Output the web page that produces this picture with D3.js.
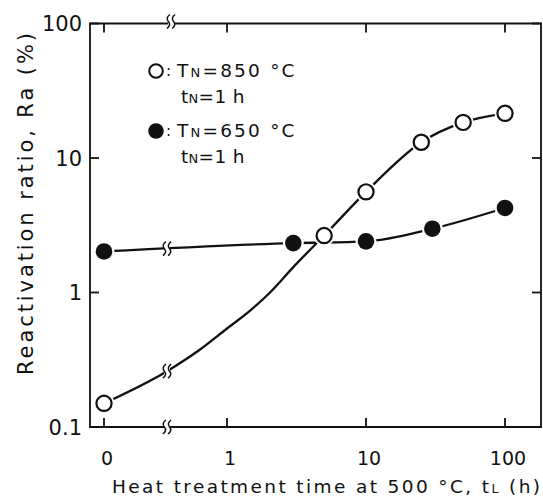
<!DOCTYPE html>
<html><head><meta charset="utf-8">
<script src="https://cdn.jsdelivr.net/npm/d3@7"></script>
<style>
body{margin:0;background:#fff}
svg{display:block}
text{font-family:"DejaVu Sans","Liberation Sans",Arial,sans-serif;fill:#111}
</style>
</head><body>
<svg id="chart" width="543" height="500"></svg>
<script>
// Heat treatment time at 500 °C (h); 0 = untreated, drawn left of the axis break
const timesOpen = [0, 5, 10, 25, 50, 100];
const ratioOpen = [0.15, 2.65, 5.6, 13.1, 18.4, 21.5];
const timesFilled = [0, 3, 10, 30, 100];
const ratioFilled = [2.02, 2.33, 2.4, 2.98, 4.25];
// hand-drawn trend curve through the TN=850 °C points
const fitTimes = [0, 0.37, 0.64, 1, 1.46, 2.04, 3.08, 5, 10, 25, 50, 100];
const fitRatio = [0.15, 0.26, 0.377, 0.54, 0.73, 1.0, 1.59, 2.65, 5.6, 13.1, 18.4, 21.5];
const xTicks = [0, 1, 10, 100];
const xTickLabels = ["0", "1", "10", "100"];
const yTicks = [0.1, 1, 10, 100];
const yTickLabels = ["0.1", "1", "10", "100"];
const breakTime = 0.37;

const svg = d3.select("#chart");
const pLeft = 90, pRight = 541, pTop = 23.5, pBottom = 427;
const ink = "#111";

const xLog = d3.scaleLog().domain([1, 100]).range([227, 505]);
const zeroX = 104;
const x = t => (t === 0 ? zeroX : xLog(t));
const y = d3.scaleLog().domain([0.1, 100]).range([pBottom, pTop]);
const bx = xLog(breakTime);

const g = svg.append("g");

// frame
const frame = g.append("g").attr("stroke", ink).attr("stroke-width", 1.8).attr("fill", "none");
frame.append("line").attr("x1", pLeft).attr("x2", pLeft).attr("y1", pTop).attr("y2", pBottom);
frame.append("line").attr("x1", pRight).attr("x2", pRight).attr("y1", pTop).attr("y2", pBottom);
frame.append("line").attr("x1", pLeft - 1).attr("x2", pRight + 1).attr("y1", pTop).attr("y2", pTop);
frame.append("line").attr("x1", pLeft - 1).attr("x2", pRight + 1).attr("y1", pBottom).attr("y2", pBottom);

// ticks pointing inward on all four sides
const tl = 9;
yTicks.forEach(v => {
  frame.append("line").attr("x1", pLeft).attr("x2", pLeft + tl).attr("y1", y(v)).attr("y2", y(v));
  frame.append("line").attr("x1", pRight).attr("x2", pRight - tl).attr("y1", y(v)).attr("y2", y(v));
});
xTicks.forEach(v => {
  frame.append("line").attr("x1", x(v)).attr("x2", x(v)).attr("y1", pBottom).attr("y2", pBottom - tl);
  frame.append("line").attr("x1", x(v)).attr("x2", x(v)).attr("y1", pTop).attr("y2", pTop + tl);
});

// tick labels
g.append("g").selectAll("text").data(yTicks).join("text")
  .attr("x", 82).attr("y", d => y(d) + 7.5)
  .attr("text-anchor", "end").attr("font-size", 21)
  .text((d, i) => yTickLabels[i]);
g.append("g").selectAll("text").data(xTicks).join("text")
  .attr("x", d => x(d) + 3).attr("y", 465)
  .attr("text-anchor", "middle").attr("font-size", 19)
  .text((d, i) => xTickLabels[i]);

// axis titles
const xt = g.append("text").attr("x", 112).attr("y", 493).attr("font-size", 18.5)
  .attr("textLength", 428).attr("lengthAdjust", "spacing");
xt.append("tspan").text("Heat treatment time at 500 °C, t");
xt.append("tspan").attr("font-size", 12.5).text("L");
xt.append("tspan").text(" (h)");

g.append("text").attr("transform", "translate(33,204) rotate(-90)")
  .attr("text-anchor", "middle").attr("font-size", 21)
  .attr("textLength", 342).attr("lengthAdjust", "spacing")
  .text("Reactivation ratio, Ra (%)");

// series lines
const line = d3.line().x(d => x(d[0])).y(d => y(d[1])).curve(d3.curveMonotoneX);
g.append("path").datum(fitTimes.map((t, i) => [t, fitRatio[i]]))
  .attr("d", line).attr("fill", "none").attr("stroke", ink).attr("stroke-width", 2.3);
g.append("path").datum(timesFilled.map((t, i) => [t, ratioFilled[i]]))
  .attr("d", line).attr("fill", "none").attr("stroke", ink).attr("stroke-width", 2.3);

// break symbols "≀≀"
function breakMark(cx, cy) {
  const b = g.append("g");
  b.append("rect").attr("x", cx - 3).attr("y", cy - 6).attr("width", 6).attr("height", 12).attr("fill", "#fff");
  [-2.6, 2.6].forEach(dx => {
    const px = cx + dx;
    b.append("path")
      .attr("d", `M${px + 1.5},${cy - 7} Q${px - 3},${cy - 3.5} ${px},${cy} Q${px + 3},${cy + 3.5} ${px - 1.5},${cy + 7}`)
      .attr("fill", "none").attr("stroke", ink).attr("stroke-width", 1.5);
  });
}
breakMark(bx, pBottom);
breakMark(bx + 4, pTop - 2);
// where each series crosses the break
breakMark(bx, y(fitRatio[1]));
breakMark(bx, d3.scaleLinear().domain([zeroX, x(timesFilled[1])]).range([y(ratioFilled[0]), y(ratioFilled[1])])(bx));

// markers: white halo leaves a small gap between line and symbol
const openPts = timesOpen.map((t, i) => [t, ratioOpen[i]]);
const filledPts = timesFilled.map((t, i) => [t, ratioFilled[i]]);
g.append("g").selectAll("circle").data(openPts.concat(filledPts)).join("circle")
  .attr("cx", d => x(d[0])).attr("cy", d => y(d[1])).attr("r", 10.5).attr("fill", "#fff");
g.append("g").selectAll("circle").data(openPts).join("circle")
  .attr("cx", d => x(d[0])).attr("cy", d => y(d[1])).attr("r", 7.6)
  .attr("fill", "#fff").attr("stroke", ink).attr("stroke-width", 2.2);
g.append("g").selectAll("circle").data(filledPts).join("circle")
  .attr("cx", d => x(d[0])).attr("cy", d => y(d[1])).attr("r", 8.3).attr("fill", ink);

// legend
const legend = [
  {filled: false, T: "850", cy: 71},
  {filled: true, T: "650", cy: 131}
];
legend.forEach(l => {
  const c = g.append("circle").attr("cx", 156).attr("cy", l.cy);
  if (l.filled) c.attr("r", 7.8).attr("fill", ink);
  else c.attr("r", 6.8).attr("fill", "#fff").attr("stroke", ink).attr("stroke-width", 2);
  g.append("text").attr("x", 166).attr("y", l.cy + 5).attr("font-size", 15).text(":");
  const t1 = g.append("text").attr("x", 177).attr("y", l.cy + 6).attr("font-size", 18.5)
    .attr("letter-spacing", 2.2);
  t1.append("tspan").text("T");
  t1.append("tspan").attr("font-size", 13).text("N");
  t1.append("tspan").text("=" + l.T + " °C");
  const t2 = g.append("text").attr("x", 181).attr("y", l.cy + 32).attr("font-size", 18.5)
    .attr("letter-spacing", 0.3);
  t2.append("tspan").text("t");
  t2.append("tspan").attr("font-size", 13).text("N");
  t2.append("tspan").text("=1 h");
});
</script>
</body></html>
